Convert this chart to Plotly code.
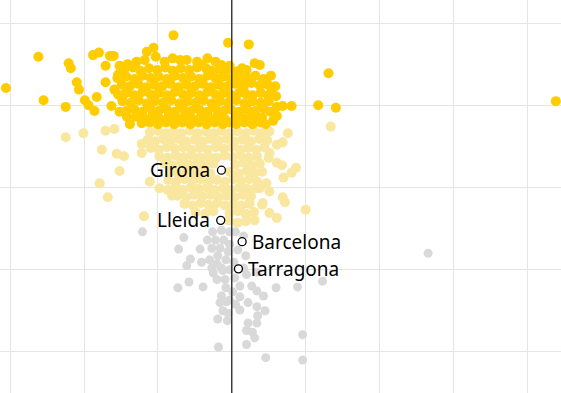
import plotly.graph_objects as go

# ---- data ----
dark_points = [
    # outliers / edges
    (-30.6, 32.1), (-26.2, 35.9), (-25.5, 30.6), (-22.5, 29.8), (-22.1, 35.1), (-21.8, 34.5),
    (-21.0, 32.8), (-20.7, 31.9), (-19.9, 30.6), (-19.4, 30.0), (-18.6, 29.3), (-18.3, 31.0),
    (-18.8, 36.1), (-18.0, 36.4), (-17.1, 32.8), (-17.1, 34.8), (-16.5, 36.0), (-16.0, 36.0),
    (-16.3, 29.9), (-11.5, 36.5), (-10.6, 37.0), (-10.3, 35.9), (-7.9, 38.5), (-0.5, 37.6),
    (2.3, 37.4), (-8.0, 35.7), (-6.1, 35.5), (-4.7, 35.3), (-4.1, 34.9), (-3.5, 34.5),
    (-2.2, 35.3), (-12.9, 35.3), (-9.1, 35.3), (-14.1, 35.0), (-15.2, 34.8), (3.1, 35.1),
    (3.8, 34.9), (2.0, 34.3), (5.3, 33.6), (5.4, 31.9), (6.0, 31.1), (6.1, 29.8), (6.9, 29.9),
    (8.1, 29.9), (11.7, 30.0), (14.1, 29.7), (13.1, 33.9), (5.6, 28.1), (6.1, 28.7), (4.1, 28.5),
    (1.4, 32.8), (2.7, 32.7), (4.2, 32.8), (2.8, 31.2), (43.9, 30.5), (-15.2, 29.2), (-14.2, 28.6),
    (-13.8, 27.7), (-15.4, 33.7), (-15.9, 31.9), (-14.9, 30.9), (-11.8, 35.5), (-7.0, 35.5),
    (-3.3, 35.7), (-1.4, 34.9), (-0.3, 34.8),
    # dense core
    (-14.6, 34.3), (-13.4, 34.6), (-12.4, 34.2), (-11.2, 34.5), (-10.1, 34.3), (-9.0, 34.6),
    (-8.0, 34.2), (-6.9, 34.5), (-5.8, 34.3), (-4.7, 34.6), (-2.8, 34.2), (-1.7, 34.4),
    (-0.6, 34.3), (0.6, 34.1), (1.4, 34.5),
    (-15.5, 33.3), (-14.3, 33.5), (-13.2, 33.2), (-12.1, 33.6), (-11.0, 33.3), (-9.9, 33.5),
    (-8.8, 33.2), (-7.7, 33.6), (-6.6, 33.3), (-5.5, 33.5), (-4.4, 33.2), (-3.3, 33.6),
    (-2.2, 33.3), (-1.1, 33.5), (-0.1, 33.2), (1.0, 33.5), (2.1, 33.3), (3.2, 33.6), (4.3, 33.2),
    (-14.9, 32.5), (-13.8, 32.3), (-12.7, 32.6), (-11.6, 32.2), (-10.5, 32.5), (-9.4, 32.3),
    (-8.3, 32.6), (-7.2, 32.2), (-6.1, 32.5), (-5.0, 32.3), (-3.9, 32.6), (-2.8, 32.2),
    (-1.7, 32.5), (-0.6, 32.3), (0.5, 32.6), (1.6, 32.2), (3.8, 32.4), (4.9, 32.5), (5.9, 32.3),
    (-15.4, 31.3), (-14.3, 31.5), (-13.2, 31.2), (-12.1, 31.6), (-11.0, 31.3), (-9.9, 31.5),
    (-8.8, 31.2), (-7.7, 31.6), (-6.6, 31.3), (-5.5, 31.5), (-4.4, 31.2), (-3.3, 31.6),
    (-2.2, 31.3), (-1.1, 31.5), (-0.1, 31.2), (1.0, 31.5), (2.0, 31.3), (3.9, 31.5), (4.9, 31.2),
    (-14.8, 30.5), (-13.7, 30.3), (-12.6, 30.6), (-11.5, 30.2), (-10.4, 30.5), (-9.3, 30.3),
    (-8.2, 30.6), (-7.1, 30.2), (-6.0, 30.5), (-4.9, 30.3), (-3.8, 30.6), (-2.7, 30.2),
    (-1.6, 30.5), (-0.5, 30.3), (0.6, 30.6), (1.7, 30.2), (2.8, 30.5), (3.9, 30.3), (5.0, 30.5),
    (-14.3, 29.3), (-13.2, 29.5), (-12.1, 29.2), (-11.0, 29.6), (-9.9, 29.3), (-8.8, 29.5),
    (-7.7, 29.2), (-6.6, 29.6), (-5.5, 29.3), (-4.4, 29.5), (-3.3, 29.2), (-2.2, 29.6),
    (-1.1, 29.3), (-0.1, 29.5), (1.0, 29.2), (2.1, 29.5), (3.2, 29.3), (4.3, 29.6), (5.2, 29.2),
    (-13.0, 28.6), (-11.9, 28.4), (-10.8, 28.7), (-9.7, 28.3), (-8.6, 28.6), (-7.5, 28.4),
    (-6.4, 28.7), (-5.3, 28.3), (-4.2, 28.6), (-3.1, 28.4), (-2.0, 28.7), (-0.9, 28.3),
    (0.5, 28.6), (1.6, 28.4), (2.7, 28.7), (3.4, 28.3),
    (-12.2, 27.8), (-11.1, 27.9), (-10.0, 27.7), (-8.9, 27.9), (-7.8, 27.7), (-6.7, 27.9),
    (-5.6, 27.7), (-4.5, 27.9), (-3.4, 27.7), (-2.3, 27.9), (-1.2, 27.7), (-0.3, 27.9),
    (0.6, 27.7), (1.7, 27.9), (2.8, 27.7), (3.9, 27.9), (4.6, 27.7),
]

light_points = [
    # outliers / edges
    (-22.5, 26.1), (-20.1, 26.6), (-17.1, 26.9), (-15.9, 27.1), (-17.6, 24.6), (-15.6, 24.1),
    (-14.6, 23.8), (-12.2, 24.2), (-12.2, 25.3), (-15.2, 22.0), (-17.9, 20.5), (-16.8, 18.8),
    (-11.9, 16.5), (-11.1, 20.7), (-9.8, 19.9), (-8.7, 19.7), (-8.1, 19.0), (7.6, 26.6),
    (6.9, 25.5), (6.1, 25.2), (5.1, 24.2), (6.1, 23.0), (6.8, 22.7), (8.1, 21.8), (8.7, 22.4),
    (7.0, 21.2), (4.7, 20.5), (3.8, 19.9), (5.1, 19.5), (6.9, 18.8), (7.2, 18.2), (4.2, 18.1),
    (2.4, 18.2), (5.1, 16.9), (6.1, 16.3), (10.0, 17.3), (2.0, 16.7), (0.8, 15.7), (3.1, 16.0),
    (13.4, 27.4),
    # dense core
    (-11.1, 26.7), (-10.0, 26.9), (-8.9, 26.6), (-7.9, 26.8), (-6.8, 26.6), (-5.7, 26.9),
    (-4.6, 26.6), (-3.5, 26.8), (-2.4, 26.6), (-1.4, 26.9), (-0.3, 26.6), (0.8, 26.8),
    (1.9, 26.6), (3.0, 26.9), (4.1, 26.6), (5.1, 26.8),
    (-11.4, 25.8), (-10.4, 25.6), (-9.3, 25.9), (-8.2, 25.7), (-7.2, 25.9), (-6.1, 25.6),
    (-5.0, 25.8), (-3.9, 25.6), (-2.9, 25.9), (-1.8, 25.7), (-0.7, 25.9), (0.4, 25.6),
    (1.5, 25.8), (2.6, 25.6), (3.7, 25.9), (4.8, 25.7),
    (-11.0, 24.8), (-9.9, 24.6), (-8.8, 24.9), (-7.7, 24.7), (-6.6, 24.9), (-5.5, 24.6),
    (-4.4, 24.8), (-3.3, 24.6), (-2.2, 24.9), (-1.1, 24.7), (0.0, 24.9), (1.1, 24.6),
    (2.2, 24.8), (3.3, 24.6), (4.4, 24.9),
    (-9.8, 23.8), (-8.7, 23.6), (-7.6, 23.9), (-6.5, 23.7), (-5.4, 23.9), (-4.3, 23.6),
    (-3.2, 23.8), (-2.1, 23.6), (-1.0, 23.9), (0.1, 23.7), (1.2, 23.9), (2.3, 23.6),
    (3.4, 23.8), (5.0, 23.6),
    (-9.1, 22.9), (-8.0, 22.7), (-6.9, 23.0), (-5.8, 22.8), (-4.7, 23.0), (-3.6, 22.7),
    (-2.5, 22.9), (0.5, 22.8), (1.6, 23.0), (2.7, 22.7), (3.8, 22.9),
    (-8.4, 21.9), (-7.3, 21.7), (-6.2, 22.0), (-5.1, 21.8), (-4.0, 22.0), (-2.9, 21.7),
    (-0.3, 21.9), (0.9, 21.7), (2.0, 22.0), (3.1, 21.8), (4.1, 21.9),
    (-8.6, 20.9), (-7.5, 20.7), (-6.4, 21.0), (-5.3, 20.8), (-4.2, 21.0), (-3.1, 20.7),
    (-2.0, 20.9), (-0.9, 20.7), (0.2, 21.0), (1.3, 20.8), (2.4, 21.0), (3.5, 20.7),
    (-7.8, 19.9), (-6.7, 19.7), (-5.6, 20.0), (-4.5, 19.8), (-3.4, 20.0), (-2.3, 19.7),
    (-1.2, 19.9), (-0.1, 19.7), (1.0, 20.0), (2.1, 19.8), (3.2, 19.9),
    (-7.4, 19.0), (-6.2, 18.8), (-5.1, 19.1), (-4.0, 18.9), (-2.9, 19.1), (-1.8, 18.8),
    (-0.7, 19.0), (0.4, 18.8), (1.5, 19.1), (2.6, 18.9),
    (-6.4, 18.0), (-5.3, 17.8), (-4.2, 18.1), (-3.1, 17.9), (-2.0, 18.1), (-0.9, 17.8),
    (0.2, 18.0), (1.3, 17.8), (2.4, 18.0), (4.1, 17.9),
    (-4.9, 17.0), (-3.6, 16.8), (-2.5, 17.1), (-0.3, 16.9), (0.8, 17.1), (1.9, 16.8), (3.0, 17.0),
    (-0.4, 16.0), (1.9, 15.9),
]

gray_points = [
    (-12.1, 14.6), (-6.5, 13.9), (-7.2, 12.5), (-4.3, 12.5), (-5.6, 11.3), (-4.1, 10.9),
    (-3.0, 11.2), (-6.1, 10.5), (-2.7, 10.2), (-7.3, 7.8), (-5.8, 8.5), (-3.9, 7.9),
    (-2.0, 8.8), (-0.9, 8.8), (-1.6, 6.0), (-0.7, 6.1), (-1.9, 4.0), (-0.5, 4.7), (-1.8, 0.6),
    (1.1, 8.0), (3.4, 7.4), (6.0, 7.8), (8.9, 7.9), (1.1, 6.7), (2.2, 6.0), (3.4, 5.5),
    (4.5, 5.0), (1.1, 5.1), (3.4, 3.5), (2.2, 3.5), (2.0, 2.6), (2.8, 2.4), (3.1, 1.7),
    (2.0, 0.9), (4.6, -0.7), (9.6, 2.1), (9.6, -1.0), (0.4, 9.0), (2.0, 9.4), (3.4, 9.7),
    (26.6, 12.0), (12.3, 8.6),
    (-2.6, 14.6), (-1.4, 14.8), (-0.3, 14.6), (-3.3, 13.6), (-2.2, 13.6), (-1.1, 13.6),
    (-0.3, 13.1), (-2.7, 12.6), (-1.6, 12.6), (-0.5, 12.2), (-1.9, 11.7), (-0.8, 11.2),
    (0.5, 14.6), (1.6, 14.1), (0.8, 12.4), (1.9, 11.7), (0.3, 10.9), (-1.4, 10.2),
    (-0.3, 10.0), (1.6, 10.2), (-0.8, 7.8), (0.1, 7.3), (-0.3, 6.3), (0.5, 5.8), (2.7, 8.0),
    (4.3, 6.8), (3.5, 4.4), (-1.4, 6.8), (-2.0, 10.7), (-2.5, 9.6), (-1.2, 9.9),
    (-1.2, 5.0), (-0.6, 3.8),
]

city_names = ["Girona", "Lleida", "Barcelona", "Tarragona"]
city_x = [-1.4, -1.5, 1.4, 0.9]
city_y = [22.1, 16.0, 13.4, 10.1]
city_label_side = ["left", "left", "right", "right"]

x_ticks = [-30, -20, -10, 0, 10, 20, 30, 40]
y_ticks = [0, 10, 20, 30, 40]
reference_x = 0

DARK = "#FFCC00"
LIGHT = "#F9E79F"
GRAY = "#D9D9D9"
LABEL_FONT = dict(family="Noto Sans, Open Sans, sans-serif", size=19, color="#000000")


def unzip(pts):
    return [p[0] for p in pts], [p[1] for p in pts]


fig = go.Figure()

gx, gy = unzip(gray_points)
fig.add_trace(go.Scatter(x=gx, y=gy, mode="markers",
                         marker=dict(size=9, color=GRAY, line=dict(width=0))))
lx, ly = unzip(light_points)
fig.add_trace(go.Scatter(x=lx, y=ly, mode="markers",
                         marker=dict(size=10, color=LIGHT, line=dict(width=0))))
dx, dy = unzip(dark_points)
fig.add_trace(go.Scatter(x=dx, y=dy, mode="markers",
                         marker=dict(size=10, color=DARK, line=dict(width=0))))

fig.add_shape(type="line", x0=reference_x, x1=reference_x, y0=0, y1=1,
              xref="x", yref="paper", line=dict(color="#222222", width=1.3),
              layer="above")

fig.add_trace(go.Scatter(
    x=city_x, y=city_y, mode="markers",
    marker=dict(size=8, color="white", line=dict(color="#000000", width=1.3)),
))

for name, cx, cy, side in zip(city_names, city_x, city_y, city_label_side):
    fig.add_annotation(
        x=cx, y=cy, text=name, showarrow=False,
        xanchor="right" if side == "left" else "left", yanchor="middle",
        xshift=-9 if side == "left" else 8, yshift=0,
        font=LABEL_FONT,
    )

fig.update_layout(
    width=561, height=393,
    margin=dict(l=0, r=0, t=0, b=0),
    paper_bgcolor="white", plot_bgcolor="white",
    showlegend=False, hovermode=False,
    xaxis=dict(range=[-31.4, 44.6], tickvals=x_ticks, showticklabels=False,
               showgrid=True, gridcolor="#E5E5E5", gridwidth=1, zeroline=False,
               showline=False, fixedrange=True),
    yaxis=dict(range=[-5.0, 42.8], tickvals=y_ticks, showticklabels=False,
               showgrid=True, gridcolor="#E5E5E5", gridwidth=1, zeroline=False,
               showline=False, fixedrange=True),
)

fig.write_html("out.html", config={"displayModeBar": False},
               post_script="document.body.style.margin='0';")
